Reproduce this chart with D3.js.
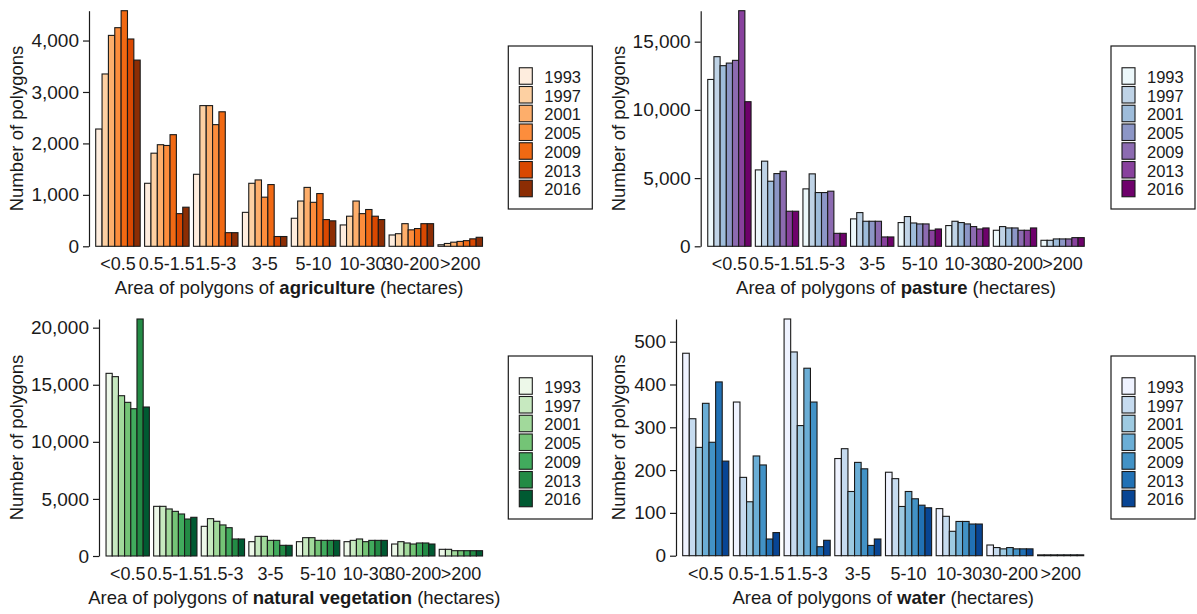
<!DOCTYPE html>
<html>
<head>
<meta charset="utf-8">
<script src="https://cdn.jsdelivr.net/npm/d3@7"></script>
<style>
  html, body { margin: 0; padding: 0; background: #ffffff; }
  svg { display: block; font-family: "Liberation Sans", Arial, sans-serif; }
</style>
</head>
<body>
<svg id="chart" width="1197" height="614"></svg>
<script>
// Polygon size classes (hectares) and survey years
const categories = ["<0.5", "0.5-1.5", "1.5-3", "3-5", "5-10", "10-30", "30-200", ">200"];
const years = [1993, 1997, 2001, 2005, 2009, 2013, 2016];

// Number of polygons per size class (rows) and year (columns)
const agriculture = [
  [2280, 3350, 4100, 4250, 4580, 4030, 3620],
  [1225, 1810, 1975, 1960, 2170, 635, 760],
  [1400, 2735, 2735, 2365, 2615, 265, 265],
  [660, 1225, 1290, 955, 1200, 190, 190],
  [545, 880, 1145, 855, 1025, 520, 495],
  [415, 585, 880, 635, 715, 585, 520],
  [220, 245, 440, 320, 345, 440, 440],
  [30, 55, 80, 95, 110, 145, 175]
];
const pasture = [
  [12230, 13900, 13240, 13430, 13630, 17270, 10600],
  [5600, 6240, 4770, 5330, 5500, 2570, 2570],
  [4210, 5310, 3940, 3940, 4040, 950, 950],
  [2010, 2470, 1835, 1835, 1835, 685, 685],
  [1740, 2180, 1710, 1640, 1640, 1175, 1270],
  [1520, 1835, 1740, 1640, 1445, 1270, 1345],
  [1175, 1445, 1345, 1345, 1175, 1175, 1345],
  [440, 440, 540, 540, 540, 635, 635]
];
const naturalVegetation = [
  [16000, 15710, 14040, 13460, 12900, 20760, 13050],
  [4350, 4350, 4120, 3910, 3680, 3240, 3390],
  [2600, 3270, 3040, 2720, 2480, 1490, 1490],
  [1255, 1720, 1720, 1370, 1370, 935, 935],
  [1255, 1605, 1605, 1370, 1370, 1370, 1370],
  [1255, 1370, 1490, 1255, 1370, 1370, 1370],
  [1050, 1255, 1140, 1050, 1140, 1140, 1050],
  [585, 585, 465, 465, 465, 465, 465]
];
const water = [
  [473, 320, 253, 356, 265, 406, 221],
  [359, 183, 126, 233, 212, 39, 54],
  [553, 476, 304, 438, 359, 21, 36],
  [227, 250, 150, 218, 203, 24, 39],
  [195, 180, 115, 150, 133, 118, 112],
  [110, 92, 57, 80, 80, 74, 74],
  [25, 19, 16, 19, 16, 16, 16],
  [2, 2, 2, 2, 2, 2, 2]
];

// Y-axis tick values per panel
const agricultureTicks = [0, 1000, 2000, 3000, 4000];
const pastureTicks = [0, 5000, 10000, 15000];
const naturalVegetationTicks = [0, 5000, 10000, 15000, 20000];
const waterTicks = [0, 100, 200, 300, 400, 500];

// Panel layout: axis position, band range, vertical extent, legend placement
const panels = [
  { label: "agriculture", data: agriculture, ticks: agricultureTicks, colors: d3.schemeOranges[7],
    axisX: 89, x0: 93.5, x1: 484.7, y0: 246.3, y1: 10.7, legendX: 508.3, legendY: 46, titleX: 23 },
  { label: "pasture", data: pasture, ticks: pastureTicks, colors: d3.schemeBuPu[7],
    axisX: 700.7, x0: 705.6, x1: 1086.4, y0: 246.3, y1: 10.7, legendX: 1111, legendY: 46, titleX: 625 },
  { label: "natural vegetation", data: naturalVegetation, ticks: naturalVegetationTicks, colors: d3.schemeGreens[7],
    axisX: 99, x0: 103.9, x1: 484.7, y0: 556, y1: 319, legendX: 508.3, legendY: 356, titleX: 23 },
  { label: "water", data: water, ticks: waterTicks, colors: d3.schemeBlues[7],
    axisX: 676, x0: 680.4, x1: 1086, y0: 555.7, y1: 319, legendX: 1111, legendY: 356, titleX: 625 }
];

const svg = d3.select("#chart");
const fmt = d3.format(",");
const ink = "#1a1a1a";

panels.forEach(p => {
  const g = svg.append("g");

  const x = d3.scaleBand()
    .domain(categories)
    .range([p.x0, p.x1])
    .paddingInner(0.09)
    .paddingOuter(0.045);

  const xYear = d3.scaleBand()
    .domain(years)
    .range([0, x.bandwidth()]);

  const yMax = d3.max(p.data, row => d3.max(row));
  const y = d3.scaleLinear().domain([0, yMax]).range([p.y0, p.y1]);

  const color = d3.scaleOrdinal().domain(years).range(p.colors);

  // Grouped bars
  const groups = g.selectAll("g.cat")
    .data(categories.map((c, i) => ({ cat: c, values: p.data[i] })))
    .join("g")
    .attr("transform", d => `translate(${x(d.cat)},0)`);

  groups.selectAll("rect")
    .data(d => d.values.map((v, j) => ({ year: years[j], value: v })))
    .join("rect")
    .attr("x", d => xYear(d.year))
    .attr("width", xYear.bandwidth())
    .attr("y", d => y(d.value))
    .attr("height", d => y(0) - y(d.value))
    .attr("fill", d => color(d.year))
    .attr("stroke", ink)
    .attr("stroke-width", 1.1);

  // Y axis
  const yAxis = d3.axisLeft(y)
    .tickValues(p.ticks)
    .tickFormat(fmt)
    .tickSize(6)
    .tickPadding(4)
    .tickSizeOuter(0);
  const ya = g.append("g")
    .attr("transform", `translate(${p.axisX},0)`)
    .call(yAxis);
  ya.select(".domain").attr("stroke", ink).attr("stroke-width", 1.2);
  ya.selectAll(".tick line").attr("stroke", ink).attr("stroke-width", 1.2);
  ya.selectAll(".tick text")
    .attr("fill", ink)
    .attr("font-size", 19)
    .attr("font-family", "Liberation Sans, Arial, sans-serif");

  // X category labels (no axis line)
  g.selectAll("text.xlab")
    .data(categories)
    .join("text")
    .attr("class", "xlab")
    .attr("x", d => x(d) + x.bandwidth() / 2)
    .attr("y", p.y0 + 24)
    .attr("text-anchor", "middle")
    .attr("font-size", 18)
    .attr("fill", ink)
    .text(d => d);

  // X axis title with bold land-use name
  const xt = g.append("text")
    .attr("x", (p.x0 + p.x1) / 2)
    .attr("y", p.y0 + 48)
    .attr("text-anchor", "middle")
    .attr("font-size", 18.5)
    .attr("fill", ink);
  xt.append("tspan").text("Area of polygons of ");
  xt.append("tspan").attr("font-weight", "bold").text(p.label);
  xt.append("tspan").text(" (hectares)");

  // Y axis title
  g.append("text")
    .attr("transform", `translate(${p.titleX},${(p.y0 + p.y1) / 2}) rotate(-90)`)
    .attr("text-anchor", "middle")
    .attr("font-size", 18.5)
    .attr("fill", ink)
    .text("Number of polygons");

  // Legend
  const lg = g.append("g").attr("transform", `translate(${p.legendX},${p.legendY})`);
  lg.append("rect")
    .attr("width", 84)
    .attr("height", 163)
    .attr("fill", "#ffffff")
    .attr("stroke", ink)
    .attr("stroke-width", 1.2);
  const items = lg.selectAll("g.item")
    .data(years)
    .join("g")
    .attr("class", "item")
    .attr("transform", (d, i) => `translate(0,${30 + i * 18.75})`);
  items.append("rect")
    .attr("x", 11)
    .attr("y", -8.25)
    .attr("width", 13)
    .attr("height", 16.5)
    .attr("fill", d => color(d))
    .attr("stroke", ink)
    .attr("stroke-width", 1.1);
  items.append("text")
    .attr("x", 36)
    .attr("y", 1)
    .attr("dy", "0.36em")
    .attr("font-size", 16.5)
    .attr("fill", ink)
    .text(d => d);
});
</script>
</body>
</html>
